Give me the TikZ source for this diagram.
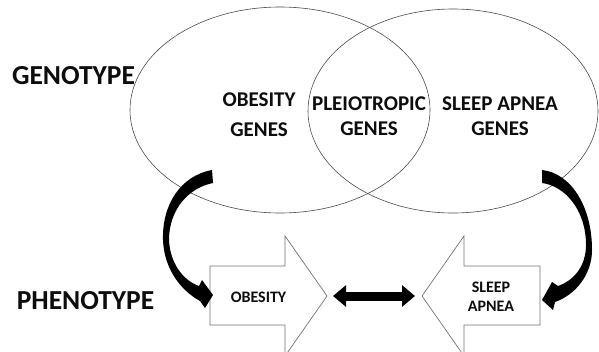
\documentclass[tikz,border=0pt]{standalone}
\usepackage{fontspec}
\setmainfont{Carlito}
\usetikzlibrary{arrows.meta}

\begin{document}
\begin{tikzpicture}[x=1pt,y=-1pt,
  level/.style={font=\bfseries\fontsize{27.5}{30}\selectfont,text=black!95},
  gene/.style={font=\bfseries\fontsize{21}{25}\selectfont,align=center,text=black!95},
  trait/.style={font=\bfseries\fontsize{16}{19}\selectfont,align=center,text=black!95},
  set/.style={draw=black!70,line width=0.6pt},
  block/.style={draw=black!55,line width=0.7pt,fill=white},
  link/.style={line width=9pt,{Triangle[width=21pt,length=13pt]}-{Triangle[width=21pt,length=13pt]}}]

\clip (0,0) rectangle (599,351);
\fill[white] (0,0) rectangle (599,351);

% the two gene sets
\draw[set] (280,110) ellipse [x radius=150pt, y radius=103pt];
\draw[set] (453,111) ellipse [x radius=145pt, y radius=102pt];

\node[level] (geno) at (73.5,76) {GENOTYPE};
\node[level] (pheno) at (85.5,301) {PHENOTYPE};

\node[gene,text depth=0pt] (obgenes) at (259,115) {OBESITY\\[5pt]GENES};
\node[gene] (pleio) at (369,116.5) {PLEIOTROPIC\\GENES};
\node[gene] (sagenes) at (500,116) {SLEEP APNEA\\GENES};

% phenotype block arrows
\draw[block] (210,266) -- (285,266) -- (285,236) -- (327,296) -- (285,356)
  -- (285,325) -- (210,325) -- cycle;
\draw[block] (540,266) -- (464,266) -- (464,236) -- (422,296) -- (464,356)
  -- (464,325) -- (540,325) -- cycle;
\coordinate (obtip) at (327,296);
\coordinate (satip) at (422,296);

\node[trait] (obpheno) at (258.5,297) {OBESITY};
\node[trait] (sapheno) at (491,296.5) {SLEEP\\APNEA};

\draw[link] ([xshift=6pt]obtip) -- ([xshift=-7pt]satip);

% curved arrows from genes to traits
\fill (212,170) .. controls (180,176) and (162,205) .. (163,240)
  .. controls (164,268) and (180,290) .. (200,301)
  -- (205,308) -- (213,295) -- (202,280) -- (199,286)
  .. controls (182,280) and (170,262) .. (169,240)
  .. controls (169,210) and (188,188) .. (213,183) -- cycle;
\fill (542,170) .. controls (570,173) and (592,205) .. (592,250)
  .. controls (592,275) and (575,295) .. (555,302)
  -- (553,310) -- (542,300) -- (552,282) -- (558,286)
  .. controls (575,280) and (586,265) .. (586,245)
  .. controls (586,210) and (565,186) .. (542,183) -- cycle;

\end{tikzpicture}
\end{document}
